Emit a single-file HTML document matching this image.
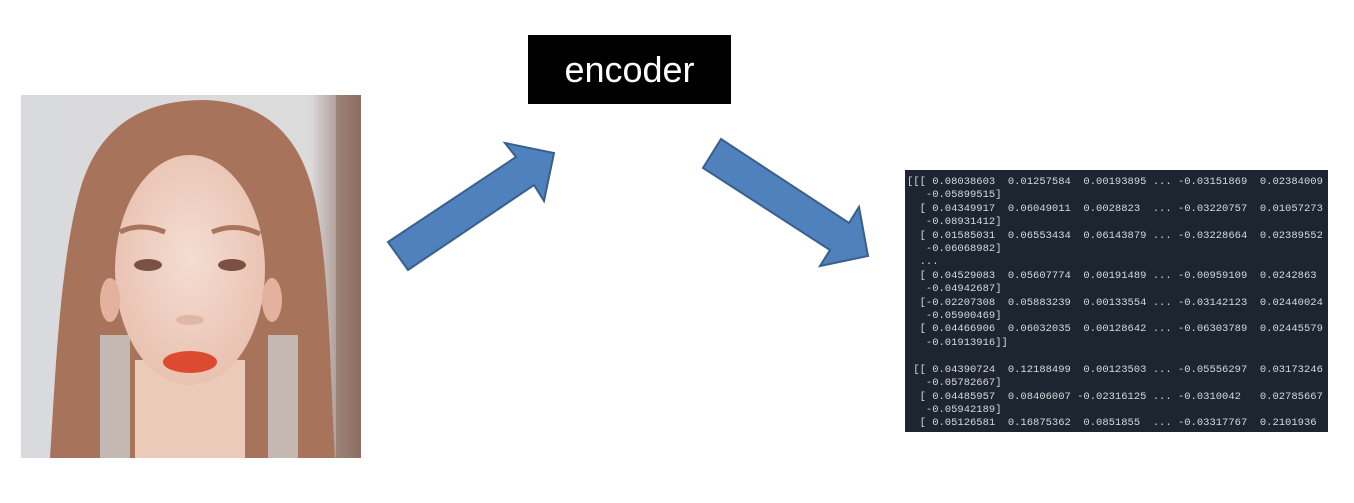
<!DOCTYPE html>
<html><head><meta charset="utf-8"><style>
html,body{margin:0;padding:0;background:#fff;width:1354px;height:503px;overflow:hidden;position:relative}
.enc{position:absolute;left:528px;top:35px;width:203px;height:69px;background:#000;color:#fff;font:36px "Liberation Sans",sans-serif;text-align:center;line-height:69px}
.mat{position:absolute;left:905px;top:170px;width:423px;height:262px;background:#1c2530;overflow:hidden}
.mat pre{margin:0;position:absolute;left:2px;top:6px;color:#d6d9dc;font:10.5px/13.4px "Liberation Mono",monospace}
</style></head><body>
<svg width="1354" height="503" style="position:absolute;left:0;top:0">
 <defs>
  <linearGradient id="bg" x1="0" x2="1"><stop offset="0" stop-color="#d9dadd"/><stop offset="0.85" stop-color="#dcdbdc"/><stop offset="1" stop-color="#8a6a5e"/></linearGradient>
  <radialGradient id="sk" cx="0.5" cy="0.45" r="0.6"><stop offset="0" stop-color="#f4ddd2"/><stop offset="1" stop-color="#e8bfae"/></radialGradient>
 </defs>
 <rect x="21" y="95" width="340" height="363" fill="url(#bg)"/>
 <rect x="336" y="95" width="25" height="363" fill="#8e6e62" opacity="0.6"/>
 <path d="M50 458 C55 380 60 260 80 190 C100 120 150 100 205 100 C260 102 300 130 315 200 C330 270 330 380 335 458 Z" fill="#a7735a"/>
 <rect x="135" y="360" width="110" height="98" fill="#eccab9"/>
 <ellipse cx="190" cy="270" rx="75" ry="115" fill="url(#sk)"/>
 <ellipse cx="110" cy="300" rx="10" ry="22" fill="#e2b29e"/>
 <ellipse cx="272" cy="300" rx="10" ry="22" fill="#e2b29e"/>
 <path d="M120 232 Q140 222 165 232" stroke="#a8745c" stroke-width="5" fill="none"/>
 <path d="M212 232 Q235 222 260 234" stroke="#a8745c" stroke-width="5" fill="none"/>
 <ellipse cx="148" cy="265" rx="14" ry="6" fill="#7a5142"/>
 <ellipse cx="232" cy="265" rx="14" ry="6" fill="#7a5142"/>
 <ellipse cx="190" cy="320" rx="14" ry="5" fill="#e0b7a4"/>
 <ellipse cx="190" cy="362" rx="27" ry="11" fill="#dc4a30"/>
 <rect x="100" y="335" width="30" height="123" fill="#c9c4c2" opacity="0.85"/>
 <rect x="268" y="335" width="30" height="123" fill="#c9c4c2" opacity="0.85"/>
 <polygon points="388,242 516,157 505,143 554,153 544,201 534,185 408,270" fill="#4f81bd" stroke="#3a5f8c" stroke-width="2" stroke-linejoin="miter"/>
 <polygon points="721,139 849,223 859,207 868,256 820,266 830,250 703,168" fill="#4f81bd" stroke="#3a5f8c" stroke-width="2" stroke-linejoin="miter"/>
</svg>
<div class="enc">encoder</div>
<div class="mat"><pre>[[[ 0.08038603  0.01257584  0.00193895 ... -0.03151869  0.02384009
   -0.05899515]
  [ 0.04349917  0.06049011  0.0028823  ... -0.03220757  0.01057273
   -0.08931412]
  [ 0.01585031  0.06553434  0.06143879 ... -0.03228664  0.02389552
   -0.06068982]
  ...
  [ 0.04529083  0.05607774  0.00191489 ... -0.00959109  0.0242863
   -0.04942687]
  [-0.02207308  0.05883239  0.00133554 ... -0.03142123  0.02440024
   -0.05900469]
  [ 0.04466906  0.06032035  0.00128642 ... -0.06303789  0.02445579
   -0.01913916]]

 [[ 0.04390724  0.12188499  0.00123503 ... -0.05556297  0.03173246
   -0.05782667]
  [ 0.04485957  0.08406007 -0.02316125 ... -0.0310042   0.02785667
   -0.05942189]
  [ 0.05126581  0.16875362  0.0851855  ... -0.03317767  0.2101936</pre></div>
</body></html>
